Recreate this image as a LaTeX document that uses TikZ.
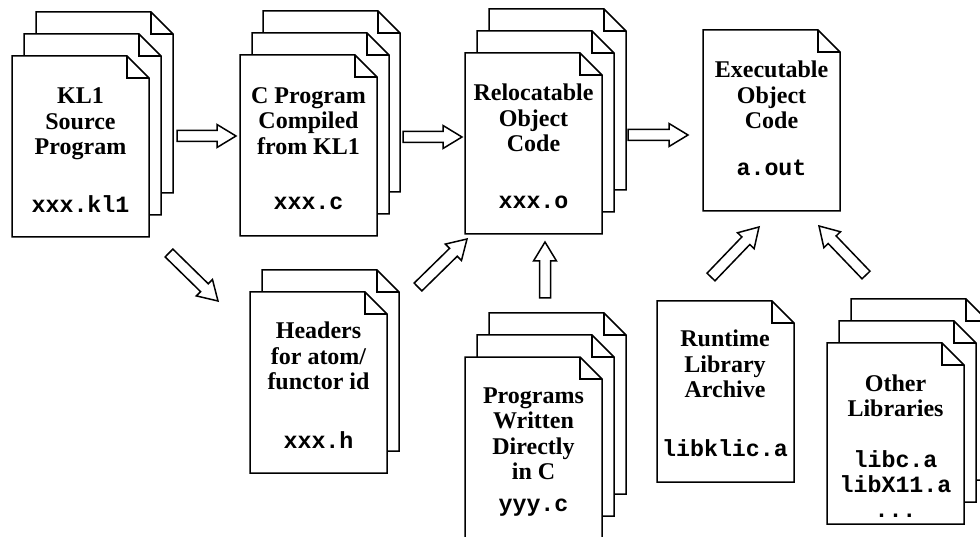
\documentclass[tikz,border=0pt]{standalone}
\usepackage{fontspec}
\setmainfont{Liberation Serif}
\setmonofont{Liberation Mono}
\usetikzlibrary{calc}

\newlength\foldsize
\setlength\foldsize{22pt}

\tikzset{
  pagebox/.style={rectangle, draw=none, minimum width=137pt, minimum height=181pt,
    inner sep=0pt, outer sep=0pt, anchor=north west},
  pageline/.style={line width=1.5pt, line join=miter, fill=white},
  foldline/.style={line width=1.5pt},
  title/.style={font=\bfseries\fontsize{24}{25.5}\selectfont, align=center, inner sep=0pt},
  fname/.style={font=\ttfamily\bfseries\fontsize{23.3}{25}\selectfont, align=center, inner sep=0pt},
  fatarrow/.style={line width=1.5pt, line join=miter, fill=white},
}

% one sheet of paper with a folded top-right corner
\newcommand\docsheet[3]{%
  \node[pagebox] (#1) at (#2,#3) {};
  \draw[pageline] (#1.north west) -- ([xshift=-\foldsize]#1.north east)
    -- ([yshift=-\foldsize]#1.north east) -- (#1.south east) -- (#1.south west) -- cycle;
  \draw[foldline] ([xshift=-\foldsize]#1.north east) |- ([yshift=-\foldsize]#1.north east);
}

% hollow block arrow from #1 to #2
\newcommand\fatarrow[2]{%
  \draw[fatarrow] let \p1=(#1), \p2=(#2),
    \n1={atan2(\y2-\y1,\x2-\x1)}, \n2={veclen(\x2-\x1,\y2-\y1)-19pt} in
    ($(\p1)+(\n1+90:5.5pt)$)
    -- ($(\p1)+(\n1:\n2)+(\n1+90:5.5pt)$)
    -- ($(\p1)+(\n1:\n2)+(\n1+90:11.5pt)$)
    -- (\p2)
    -- ($(\p1)+(\n1:\n2)+(\n1-90:11.5pt)$)
    -- ($(\p1)+(\n1:\n2)+(\n1-90:5.5pt)$)
    -- ($(\p1)+(\n1-90:5.5pt)$) -- cycle;
}

\begin{document}
\begin{tikzpicture}[x=1pt, y=-1pt]
\fill[white] (0,0) rectangle (980,537);
\useasboundingbox (0,0) rectangle (980,537);

% KL1 source program
\docsheet{klA}{36}{12}
\docsheet{klB}{24}{34}
\docsheet{klC}{12}{56}
\node[title] (klT) at (80.5,124) {KL1\\Source\\Program};
\node[fname] (klF) at (80.5,204) {xxx.kl1};

% C program compiled from KL1
\docsheet{cA}{263}{11}
\docsheet{cB}{252}{33}
\docsheet{cC}{240}{55}
\node[title] (cT) at (308.5,121) {C Program\\Compiled\\from KL1};
\node[fname] (cF) at (308.5,203) {xxx.c};

% relocatable object code
\docsheet{oA}{489}{9}
\docsheet{oB}{477}{31}
\docsheet{oC}{465}{53}
\node[title] (oT) at (533.5,118) {Relocatable\\Object\\Code};
\node[fname] (oF) at (533.5,202) {xxx.o};

% executable
\docsheet{ex}{703}{30}
\node[title] (exT) at (771.5,95) {Executable\\Object\\Code};
\node[fname] (exF) at (771.5,168) {a.out};

% headers
\docsheet{hA}{262}{270}
\docsheet{hB}{250}{292}
\node[title] (hT) at (318.5,356) {Headers\\for atom/\\functor id};
\node[fname] (hF) at (318.5,440) {xxx.h};

% programs written directly in C
\docsheet{pA}{489}{313}
\docsheet{pB}{477}{335}
\docsheet{pC}{465}{357}
\node[title] (pT) at (533.5,434) {Programs\\Written\\Directly\\in C};
\node[fname] (pF) at (533.5,508) {yyy.c};

% runtime library
\docsheet{rt}{657}{301}
\node[title] (rtT) at (725,364) {Runtime\\Library\\Archive};
\node[fname] (rtF) at (725,448) {libklic.a};

% other libraries
\docsheet{lA}{851}{299}
\docsheet{lB}{839}{321}
\docsheet{lC}{827}{343}
\node[title] (lT) at (895.5,396) {Other\\Libraries};
\node[fname] (lF) at (895.5,484) {libc.a\\libX11.a\\...};

% arrow end points
\coordinate (a1s) at (177,136);  \coordinate (a1e) at (236,136);
\coordinate (a2s) at (403,137);  \coordinate (a2e) at (462,137);
\coordinate (a3s) at (628,135);  \coordinate (a3e) at (688,135);
\coordinate (d1s) at (169,253);  \coordinate (d1e) at (218,301);
\coordinate (d2s) at (418,287);  \coordinate (d2e) at (467,239);
\coordinate (ups) at (545,298);  \coordinate (upe) at (545,242);
\coordinate (r1s) at (711,277);  \coordinate (r1e) at (759,227);
\coordinate (r2s) at (866,275);  \coordinate (r2e) at (819,226);

\fatarrow{a1s}{a1e}
\fatarrow{a2s}{a2e}
\fatarrow{a3s}{a3e}
\fatarrow{d1s}{d1e}
\fatarrow{d2s}{d2e}
\fatarrow{ups}{upe}
\fatarrow{r1s}{r1e}
\fatarrow{r2s}{r2e}
\end{tikzpicture}
\end{document}
